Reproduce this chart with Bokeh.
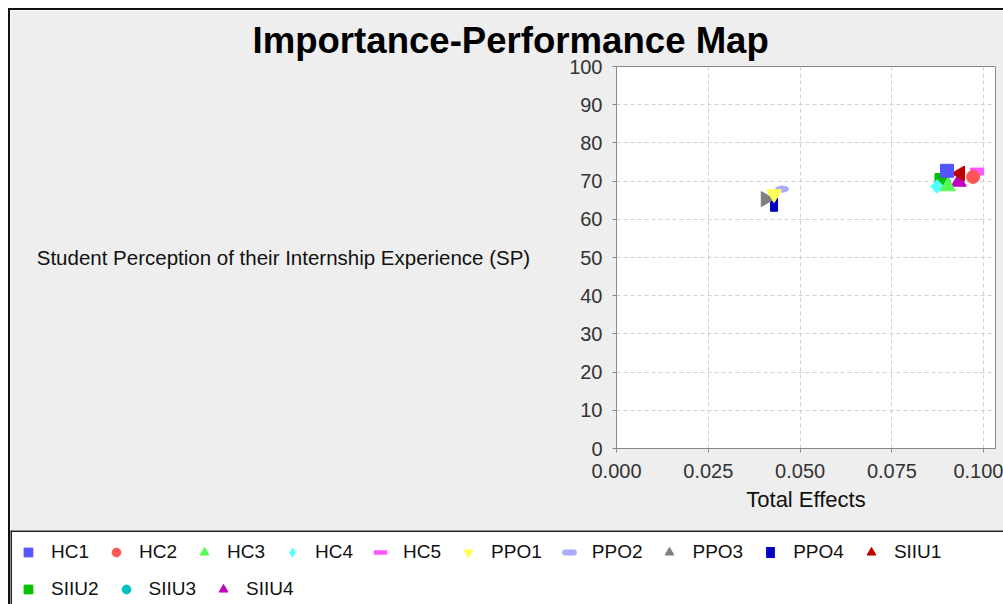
import math
from bokeh.plotting import figure
from bokeh.models import (Range1d, FixedTicker, NumeralTickFormatter, Legend, LegendItem,
                          ColumnDataSource, Title, Span)
from bokeh.layouts import column
from bokeh.embed import file_html
from bokeh.resources import INLINE

# ---------------- data ----------------
series = ["HC1", "HC2", "HC3", "HC4", "HC5", "PPO1", "PPO2", "PPO3", "PPO4",
          "SIIU1", "SIIU2", "SIIU3", "SIIU4"]
total_effects = [0.0900, 0.0971, 0.0902, 0.0873, 0.0982, 0.0429, 0.0451, 0.0406, 0.0429,
                 0.0936, 0.0885, 0.0893, 0.0932]
performance = [72.7, 71.1, 68.6, 68.6, 72.5, 66.6, 67.9, 65.3, 63.8,
               72.0, 70.3, 69.4, 69.8]
x_ticks = [0.0, 0.025, 0.05, 0.075, 0.1]
y_ticks = [0, 10, 20, 30, 40, 50, 60, 70, 80, 90, 100]

# ---------------- styles ----------------
colors = ["#5555FF", "#FF5555", "#55FF55", "#55FFFF", "#FF55FF", "#FFFF55", "#AAAAFF",
          "#808080", "#0000C0", "#C00000", "#00C000", "#00C0C0", "#C000C0"]
shapes = ["square", "circle", "triangle", "diamond", "hrect", "inverted_triangle", "ellipse",
          "right", "vrect", "left", "square", "circle", "triangle"]

FONT = "Liberation Sans"

p = figure(width=993, height=520, x_range=Range1d(0, 0.1032), y_range=Range1d(0, 100),
           output_backend="svg", toolbar_location=None,
           min_border_left=606, min_border_right=8, min_border_top=56, min_border_bottom=82,
           border_fill_color="#EEEEEE", background_fill_color="white",
           outline_line_color="#888888", frame_align=False)

p.title = Title(text="Importance-Performance Map", align="left", offset=-364,
                vertical_align="top",
                text_font=FONT, text_font_size="36.6px", text_font_style="bold",
                text_color="black", standoff=8)

for ax in (p.xaxis[0], p.yaxis[0]):
    ax.axis_line_color = "#888888"
    ax.major_tick_line_color = "#888888"
    ax.minor_tick_line_color = None
    ax.major_tick_out = 4
    ax.major_tick_in = 0
    ax.major_label_text_font = FONT
    ax.major_label_text_font_size = "20px"
    ax.major_label_text_color = "#333333"
    ax.axis_label_text_font = FONT
    ax.axis_label_text_font_style = "normal"
    ax.axis_label_text_color = "#111111"

p.xaxis.ticker = FixedTicker(ticks=x_ticks)
p.xaxis.formatter = NumeralTickFormatter(format="0.000")
p.xaxis.axis_label = "Total Effects"
p.xaxis.axis_label_text_font_size = "22px"
p.xaxis.major_label_standoff = 11
p.xaxis.axis_label_standoff = 6

p.yaxis.ticker = FixedTicker(ticks=y_ticks)
p.yaxis.axis_label = "Student Perception of their Internship Experience (SP)"
p.yaxis.axis_label_text_font_size = "20.5px"
p.yaxis.axis_label_orientation = "horizontal"
p.yaxis.major_label_standoff = 10
p.yaxis.axis_label_standoff = 36

p.xgrid.ticker = FixedTicker(ticks=x_ticks)
p.ygrid.ticker = FixedTicker(ticks=y_ticks)
for g in (p.xgrid[0], p.ygrid[0]):
    g.grid_line_color = "#D0D0D0"
    g.grid_line_dash = "4 3"
    g.grid_line_width = 1

for i in reversed(range(len(series))):
    src = ColumnDataSource(dict(x=[total_effects[i]], y=[performance[i]]))
    c = colors[i]
    s = shapes[i]
    if s == "hrect":
        p.rect("x", "y", width=13, height=7, width_units="screen", height_units="screen",
               source=src, fill_color=c, line_color=c)
    elif s == "vrect":
        p.rect("x", "y", width=7, height=13, width_units="screen", height_units="screen",
               source=src, fill_color=c, line_color=c)
    elif s == "ellipse":
        p.ellipse("x", "y", width=13, height=6, width_units="screen", height_units="screen",
                  source=src, fill_color=c, line_color=c)
    elif s == "diamond":
        p.scatter("x", "y", source=src, marker="square", size=9.5, angle=math.pi / 4,
                  fill_color=c, line_color=c)
    elif s == "right":
        p.scatter("x", "y", source=src, marker="triangle", size=15, angle=-math.pi / 2,
                  fill_color=c, line_color=c)
    elif s == "left":
        p.scatter("x", "y", source=src, marker="triangle", size=15, angle=math.pi / 2,
                  fill_color=c, line_color=c)
    elif s in ("triangle", "inverted_triangle"):
        p.scatter("x", "y", source=src, marker=s, size=15, fill_color=c, line_color=c)
    else:
        p.scatter("x", "y", source=src, marker=s, size=13, fill_color=c, line_color=c)

# ---------------- legend panel ----------------
# its y range (0..1) lies far below the series values, so the swatch renderers
# below carry the real data but show nothing except their legend entries
lg = figure(width=993, height=74, x_range=Range1d(0, 1), y_range=Range1d(0, 1),
            output_backend="svg", toolbar_location=None,
            x_axis_location=None, y_axis_location=None,
            min_border_left=0, min_border_right=0, min_border_top=0, min_border_bottom=0,
            border_fill_color="white", background_fill_color="white",
            outline_line_color=None, frame_align=False)
lg.grid.visible = False
lg.add_layout(Span(location=0, dimension="height", line_color="#222222", line_width=3))
lg.add_layout(Span(location=1, dimension="width", line_color="#222222", line_width=3))

items = []
for i, name in enumerate(series):
    c = colors[i]
    s = shapes[i]
    src = ColumnDataSource(dict(x=[total_effects[i]], y=[performance[i]]))
    if s == "hrect":
        r = lg.scatter("x", "y", source=src, marker="dash", line_color=c, line_width=4.5,
                       line_cap="square")
    elif s == "vrect":
        r = lg.scatter("x", "y", source=src, marker="dash", line_color=c, line_width=11,
                       line_cap="butt")
    elif s == "ellipse":
        r = lg.scatter("x", "y", source=src, marker="dash", line_color=c, line_width=6,
                       line_cap="round")
    elif s in ("right", "left"):
        r = lg.scatter("x", "y", source=src, marker="triangle", fill_color=c, line_color=c)
    else:
        r = lg.scatter("x", "y", source=src, marker=s, fill_color=c, line_color=c)
    items.append(LegendItem(label=name, renderers=[r]))

common = dict(orientation="horizontal", label_text_font=FONT, label_text_font_size="19px",
              label_text_color="#111111", glyph_width=22, glyph_height=22,
              label_standoff=12, spacing=16, padding=6, margin=0,
              border_line_color=None, background_fill_alpha=0)
lg.add_layout(Legend(items=items[:10], location=(7, 41), **common))
lg.add_layout(Legend(items=items[10:], location=(7, 4), **common))

layout = column(p, lg, spacing=0,
                styles={"margin-left": "8px", "margin-top": "8px",
                        "border-left": "2px solid #111111", "border-top": "2px solid #111111"})

open("out.html", "w").write(file_html(layout, INLINE))
